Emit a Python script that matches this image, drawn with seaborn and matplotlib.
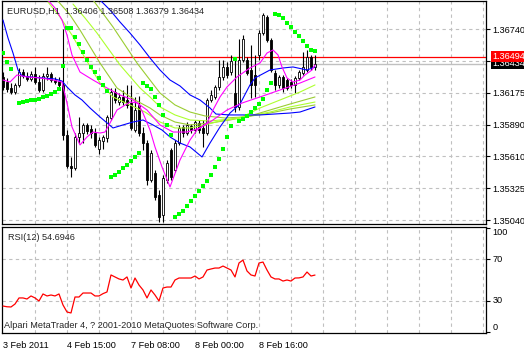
import matplotlib
matplotlib.use('Agg')
import matplotlib.pyplot as plt
import seaborn as sns
import numpy as np
import pandas as pd

# ── EURUSD H1 bars ────────────────────────────────────────────
opens = [1.36315, 1.36270, 1.36217, 1.36181, 1.36244, 1.36359, 1.36324, 1.36297, 1.36341, 1.36270,
         1.36199, 1.36324, 1.36341, 1.36288, 1.36279, 1.36244, 1.35799, 1.35523, 1.35505, 1.35781,
         1.35816, 1.35888, 1.35852, 1.35816, 1.35674, 1.35745, 1.35772, 1.35950, 1.36181, 1.36092,
         1.36137, 1.36110, 1.36083, 1.35843, 1.36066, 1.35816, 1.35727, 1.35398, 1.35460, 1.35265,
         1.35087, 1.35398, 1.35665, 1.35487, 1.35727, 1.35870, 1.35816, 1.35879, 1.35843, 1.35905,
         1.35861, 1.35816, 1.36110, 1.36137, 1.36226, 1.36315, 1.36404, 1.36359, 1.36172, 1.36048,
         1.36466, 1.36466, 1.36377, 1.36333, 1.36511, 1.36706, 1.36849, 1.36644, 1.36350, 1.36244,
         1.36315, 1.36288, 1.36270, 1.36244, 1.36306, 1.36350, 1.36377, 1.36493, 1.36406]
highs = [1.36359, 1.36306, 1.36261, 1.36261, 1.36395, 1.36386, 1.36359, 1.36368, 1.36404, 1.36333,
         1.36350, 1.36404, 1.36359, 1.36315, 1.36315, 1.36742, 1.35843, 1.35603, 1.35816, 1.35959,
         1.35905, 1.35905, 1.35888, 1.35861, 1.35781, 1.35799, 1.35977, 1.36217, 1.36217, 1.36172,
         1.36199, 1.36244, 1.36244, 1.36137, 1.36146, 1.35870, 1.35754, 1.35665, 1.35487, 1.35309,
         1.35443, 1.35576, 1.35683, 1.35754, 1.35888, 1.35888, 1.35914, 1.35896, 1.35932, 1.35932,
         1.35932, 1.36128, 1.36199, 1.36244, 1.36466, 1.36466, 1.36448, 1.36511, 1.36466, 1.36653,
         1.36688, 1.36493, 1.36600, 1.36511, 1.36733, 1.36884, 1.36867, 1.36662, 1.36377, 1.36333,
         1.36333, 1.36306, 1.36297, 1.36324, 1.36377, 1.36537, 1.36555, 1.36511, 1.36508]
lows = [1.36199, 1.36181, 1.36163, 1.36163, 1.36226, 1.36306, 1.36279, 1.36279, 1.36252, 1.36181,
        1.36181, 1.36288, 1.36270, 1.36252, 1.36217, 1.35754, 1.35505, 1.35425, 1.35487, 1.35727,
        1.35727, 1.35807, 1.35772, 1.35692, 1.35629, 1.35674, 1.35736, 1.35932, 1.36083, 1.36066,
        1.36066, 1.36039, 1.35843, 1.35825, 1.35790, 1.35665, 1.35354, 1.35380, 1.35220, 1.35024,
        1.35024, 1.35371, 1.35398, 1.35469, 1.35710, 1.35781, 1.35799, 1.35816, 1.35816, 1.35816,
        1.35692, 1.35799, 1.36092, 1.36119, 1.36199, 1.36288, 1.36306, 1.36333, 1.36003, 1.36021,
        1.36448, 1.36333, 1.36128, 1.36137, 1.36466, 1.36688, 1.36626, 1.36359, 1.36199, 1.36217,
        1.36181, 1.36199, 1.36217, 1.36172, 1.36288, 1.36333, 1.36359, 1.36377, 1.36379]
closes = [1.36226, 1.36208, 1.36181, 1.36244, 1.36359, 1.36324, 1.36297, 1.36341, 1.36270, 1.36199,
          1.36324, 1.36341, 1.36288, 1.36270, 1.36244, 1.35799, 1.35523, 1.35505, 1.35781, 1.35816,
          1.35888, 1.35834, 1.35816, 1.35710, 1.35754, 1.35781, 1.35959, 1.36181, 1.36110, 1.36137,
          1.36092, 1.36066, 1.35861, 1.36021, 1.35816, 1.35727, 1.35398, 1.35638, 1.35247, 1.35069,
          1.35416, 1.35549, 1.35425, 1.35727, 1.35861, 1.35816, 1.35888, 1.35843, 1.35914, 1.35843,
          1.35816, 1.36110, 1.36155, 1.36226, 1.36315, 1.36404, 1.36333, 1.36457, 1.36048, 1.36466,
          1.36653, 1.36350, 1.36244, 1.36244, 1.36706, 1.36867, 1.36644, 1.36377, 1.36244, 1.36315,
          1.36217, 1.36217, 1.36244, 1.36306, 1.36359, 1.36404, 1.36493, 1.36404, 1.36434]

ask_price = 1.36494
bid_price = 1.36434

# ── Parabolic SAR dots ────────────────────────────────────────
sar_bar = [0, 1, 2] + list(range(4, 79))
sar_val = [1.36528, 1.36448, 1.36386,
           1.36083, 1.36092, 1.36101, 1.36110, 1.36110, 1.36119, 1.36137, 1.36146, 1.36163, 1.36181, 1.36208,
           1.36413, 1.36751, 1.36751, 1.36671, 1.36608, 1.36537, 1.36466, 1.36404, 1.36359, 1.36306, 1.36244, 1.36190,
           1.35425, 1.35443, 1.35469, 1.35505, 1.35532, 1.35567, 1.35603, 1.35638,
           1.36261, 1.36235, 1.36208, 1.36137, 1.36066, 1.35977, 1.35888, 1.35799,
           1.35069, 1.35095, 1.35122, 1.35167, 1.35211, 1.35256, 1.35300, 1.35345, 1.35389, 1.35443,
           1.35514, 1.35585, 1.35674, 1.35781, 1.35879,
           1.36475,
           1.35923, 1.35941, 1.35968, 1.36003, 1.36039, 1.36074, 1.36119, 1.36199, 1.36261,
           1.36875, 1.36867, 1.36840, 1.36795, 1.36760, 1.36715, 1.36680, 1.36635, 1.36591, 1.36555, 1.36546]

# ── Moving averages (sampled along each line) ────────────────
blue_fast_x = [0, 1.25, 2.5, 3.75, 4.75, 6.75, 10, 13, 14.75, 16, 18, 19.75, 21.75, 24.25, 27.5, 30, 32.5,
               35, 37.5, 39.75, 41.75, 44.25, 46.75, 49.75, 51.75, 54.25, 56.75, 59.25, 61.75, 63, 66.75,
               70, 72.5, 76, 78]
blue_fast_y = [1.36822, 1.36662, 1.36528, 1.36377, 1.36324, 1.36315, 1.36306, 1.36297, 1.36279, 1.36226,
               1.36155, 1.36110, 1.36039, 1.35959, 1.35861, 1.35888, 1.35914, 1.35932, 1.35888, 1.35843,
               1.35781, 1.35727, 1.35692, 1.35603, 1.35727, 1.35870, 1.35994, 1.36074, 1.36244, 1.36306,
               1.36377, 1.36395, 1.36404, 1.36377, 1.36404]
blue_slow_x = [23.75, 26.75, 29.25, 31.75, 34.25, 36.75, 39.25, 41.75, 44.25, 46.75, 49.25, 51.75, 53.25,
               56.75, 64.25, 71.75, 74.25, 78]
blue_slow_y = [1.37018, 1.36911, 1.36804, 1.36706, 1.36600, 1.36484, 1.36377, 1.36288, 1.36235, 1.36155,
               1.36110, 1.36039, 1.35985, 1.35977, 1.35977, 1.35994, 1.36003, 1.36048]
mag_fast_x = [0, 1.75, 3.5, 6, 9.25, 12.5, 14.75, 16, 17.25, 19.25, 21, 22.5, 24.25, 25.5, 26.75, 28.5,
              29.75, 31.75, 33.75, 35, 36.75, 38, 39.75, 41.75, 44.25, 46.75, 48.5, 51, 52.5, 54.25, 56,
              58.5, 61.75, 64.25, 66, 67.5, 68.75, 69.75, 71, 72.5, 74.25, 75.5, 77.25, 78]
mag_fast_y = [1.36288, 1.36270, 1.36333, 1.36315, 1.36306, 1.36288, 1.36270, 1.36083, 1.35870, 1.35710,
              1.35781, 1.35825, 1.35816, 1.35825, 1.35905, 1.36021, 1.36048, 1.36092, 1.36083, 1.35994,
              1.35843, 1.35692, 1.35514, 1.35336, 1.35576, 1.35754, 1.35843, 1.35905, 1.36021, 1.36137,
              1.36226, 1.36315, 1.36395, 1.36439, 1.36528, 1.36555, 1.36511, 1.36404, 1.36306, 1.36270,
              1.36288, 1.36333, 1.36377, 1.36422]
mag_slow_x = [10.5, 13, 14.75, 16, 17.25, 19.25, 22.5, 26, 29.25, 32.5, 36, 39.25, 42.5, 46, 49.25, 52.5,
              56, 59.75, 64.25, 69.25, 74.25, 78]
mag_slow_y = [1.37027, 1.36929, 1.36822, 1.36688, 1.36511, 1.36359, 1.36288, 1.36217, 1.36155, 1.36110,
              1.36021, 1.35888, 1.35825, 1.35825, 1.35861, 1.35932, 1.36021, 1.36083, 1.36137, 1.36199,
              1.36261, 1.36315]
green1_x = [11.25, 14.25, 17.25, 20.5, 24.25, 27.5, 31.75, 35.5, 39.25, 43, 46.75, 50.5, 54.25, 59.25,
            64.25, 69.25, 74.25, 78]
green1_y = [1.36982, 1.36849, 1.36688, 1.36484, 1.36261, 1.36137, 1.36066, 1.36003, 1.35914, 1.35861,
            1.35861, 1.35888, 1.35923, 1.35950, 1.36039, 1.36110, 1.36181, 1.36244]
green2_x = [13.5, 16.75, 19.25, 24.25, 28.5, 33, 36.75, 39.25, 43, 46.75, 51.75, 56.75, 61.75, 66.75,
            71.75, 78]
green2_y = [1.37000, 1.36867, 1.36733, 1.36439, 1.36217, 1.36110, 1.36039, 1.35977, 1.35914, 1.35888,
            1.35905, 1.35932, 1.35968, 1.36021, 1.36074, 1.36137]
green3_x = [17.5, 20.5, 23.5, 29.25, 34.25, 36.75, 39.25, 43, 46.75, 51.75, 56.75, 61.75, 66.75, 71.75, 78]
green3_y = [1.36964, 1.36840, 1.36706, 1.36422, 1.36217, 1.36137, 1.36048, 1.35977, 1.35932, 1.35923,
            1.35941, 1.35968, 1.36003, 1.36048, 1.36092]
green4_x = [22.5, 27.5, 33.5, 36.75, 39.25, 43, 46.75, 50.5, 55.5, 60.5, 66.75, 71.75, 78]
green4_y = [1.37000, 1.36760, 1.36439, 1.36288, 1.36172, 1.36066, 1.36003, 1.35968, 1.35950, 1.35959,
            1.35994, 1.36030, 1.36066]

# ── RSI(12) ───────────────────────────────────────────────────
rsi_val = [25.2, 24.5, 24.3, 27.1, 32.9, 32.9, 31.9, 34.8, 32.9, 30.0,
           36.7, 34.8, 35.7, 34.8, 36.7, 26.2, 19.5, 18.6, 33.8, 33.8,
           37.6, 37.6, 37.6, 34.8, 34.8, 37.0, 38.6, 54.8, 52.9, 51.0,
           50.0, 52.9, 42.4, 51.9, 45.2, 40.5, 32.9, 40.5, 35.7, 30.0,
           42.4, 43.3, 43.3, 50.0, 51.9, 51.9, 51.9, 51.9, 53.8, 51.0,
           52.9, 59.5, 60.5, 61.4, 61.4, 63.3, 61.4, 59.5, 52.9, 66.2,
           69.0, 58.6, 54.8, 53.8, 66.2, 67.1, 59.5, 52.9, 51.0, 51.0,
           49.0, 50.0, 49.0, 51.9, 52.0, 52.9, 57.6, 53.8, 54.7]

# ── Axis ticks ────────────────────────────────────────────────
price_ticks  = [1.36740, 1.36457, 1.36175, 1.35890, 1.35610, 1.35325, 1.35040]
price_labels = ['1.36740', '', '1.36175', '1.35890', '1.35610', '1.35325', '1.35040']
rsi_ticks    = [0, 30, 70, 100]
time_ticks   = [0, 16, 32, 48, 64]
time_labels  = ['3 Feb 2011', '4 Feb 15:00', '7 Feb 08:00', '8 Feb 00:00', '8 Feb 16:00']
grid_x       = list(range(8, 121, 8))

title_txt = 'EURUSD,H1  1.36406 1.36508 1.36379 1.36434'
rsi_txt   = 'RSI(12) 54.6946'
copy_txt  = 'Alpari MetaTrader 4, ? 2001-2010 MetaQuotes Software Corp.'

# ── Style ─────────────────────────────────────────────────────
sns.set_style('white')
plt.rcParams['font.family'] = ['Liberation Sans', 'DejaVu Sans']
FS = 6.6
GRID = dict(color='#C0C0C0', linestyle=(0, (3, 3)), linewidth=0.8)

fig = plt.figure(figsize=(5.24, 3.51), dpi=100, facecolor='white')
ax  = fig.add_axes([2/524, 1 - 224/351, 484/524, 223/351])
ax2 = fig.add_axes([2/524, 18/351, 484/524, 106/351])

bars = pd.DataFrame({'bar': np.arange(len(opens)), 'open': opens, 'high': highs,
                     'low': lows, 'close': closes})

# ── Main chart ────────────────────────────────────────────────
for xg in grid_x:
    ax.axvline(xg, zorder=0, **GRID)
for yg in price_ticks:
    ax.axhline(yg, zorder=0, **GRID)
ax.axhline(bid_price, color='#C0C0C0', lw=1.0, zorder=1)
ax.axhline(ask_price, color='red', lw=0.9, zorder=1)

ax.vlines(bars['bar'], bars['low'], bars['high'], color='black', lw=0.8, zorder=2)
up = bars['close'] >= bars['open']
body_lo = bars[['open', 'close']].min(axis=1)
body_h = (bars['close'] - bars['open']).abs().clip(lower=0.00002)
ax.bar(bars['bar'], body_h, bottom=body_lo, width=0.62,
       color=np.where(up, 'white', 'black'), edgecolor='black', linewidth=0.6, zorder=3)

lines = [(green4_x, green4_y, '#9ACD32'), (green3_x, green3_y, '#ADFF2F'),
         (green2_x, green2_y, '#9ACD32'), (green1_x, green1_y, '#ADFF2F'),
         (blue_slow_x, blue_slow_y, '#0000FF'), (blue_fast_x, blue_fast_y, '#0000FF'),
         (mag_slow_x, mag_slow_y, '#FF00FF'), (mag_fast_x, mag_fast_y, '#FF00FF')]
for lx, ly, col in lines:
    sns.lineplot(x=lx, y=ly, ax=ax, color=col, lw=0.8, estimator=None, sort=False, zorder=4)

sns.scatterplot(x=sar_bar, y=sar_val, ax=ax, color='#00FF00', marker='s', s=6,
                linewidth=0, zorder=5)

ax.set_xlim(-0.25, 120.75)
ax.set_ylim(1.350064, 1.369911)
ax.set_xticks([])
ax.yaxis.tick_right()
ax.set_yticks(price_ticks)
ax.set_yticklabels(price_labels)
ax.tick_params(axis='y', length=3, width=0.8, pad=1.5, labelsize=FS, colors='black')
for s in ax.spines.values():
    s.set_color('black')
    s.set_linewidth(0.9)
ax.set_xlabel('')
ax.set_ylabel('')

ax.text(1.013, bid_price, '1.36434', transform=ax.get_yaxis_transform(), ha='left', va='center',
        fontsize=FS, color='white', clip_on=False, zorder=6,
        bbox=dict(boxstyle='square,pad=0.12', fc='black', ec='none'))
ax.text(1.013, ask_price, '1.36494', transform=ax.get_yaxis_transform(), ha='left', va='center',
        fontsize=FS, color='white', clip_on=False, zorder=7,
        bbox=dict(boxstyle='square,pad=0.12', fc='red', ec='none'))

fig.text(7/524, 1 - 11/351, title_txt, fontsize=FS, va='center', ha='left')

# ── RSI panel ─────────────────────────────────────────────────
for xg in grid_x:
    ax2.axvline(xg, zorder=0, **GRID)
for yg in [30, 70]:
    ax2.axhline(yg, zorder=0, **GRID)
sns.lineplot(x=np.arange(len(rsi_val)), y=rsi_val, ax=ax2, color='red', lw=0.9,
             estimator=None, zorder=3)

ax2.set_xlim(-0.25, 120.75)
ax2.set_ylim(-0.5, 100.5)
ax2.yaxis.tick_right()
ax2.set_yticks(rsi_ticks)
ax2.set_yticklabels([str(t) for t in rsi_ticks])
ax2.tick_params(axis='y', length=3, width=0.8, pad=1.5, labelsize=FS, colors='black')
for lab, t in zip(ax2.get_yticklabels(), rsi_ticks):
    lab.set_va('top' if t == 100 else ('bottom' if t == 0 else 'center'))
ax2.set_xticks(time_ticks)
ax2.set_xticklabels(time_labels)
ax2.tick_params(axis='x', length=3, width=0.8, pad=2.5, labelsize=FS, colors='black')
for lab in ax2.get_xticklabels():
    lab.set_ha('left')
for s in ax2.spines.values():
    s.set_color('black')
    s.set_linewidth(0.9)
ax2.set_xlabel('')
ax2.set_ylabel('')

ax2.text(6/484, 0.9, rsi_txt, transform=ax2.transAxes, fontsize=FS, ha='left', va='center')
ax2.text(2/484, 0.07, copy_txt, transform=ax2.transAxes, fontsize=FS, ha='left', va='center')

fig.savefig('out.png', dpi=100, facecolor='white')
